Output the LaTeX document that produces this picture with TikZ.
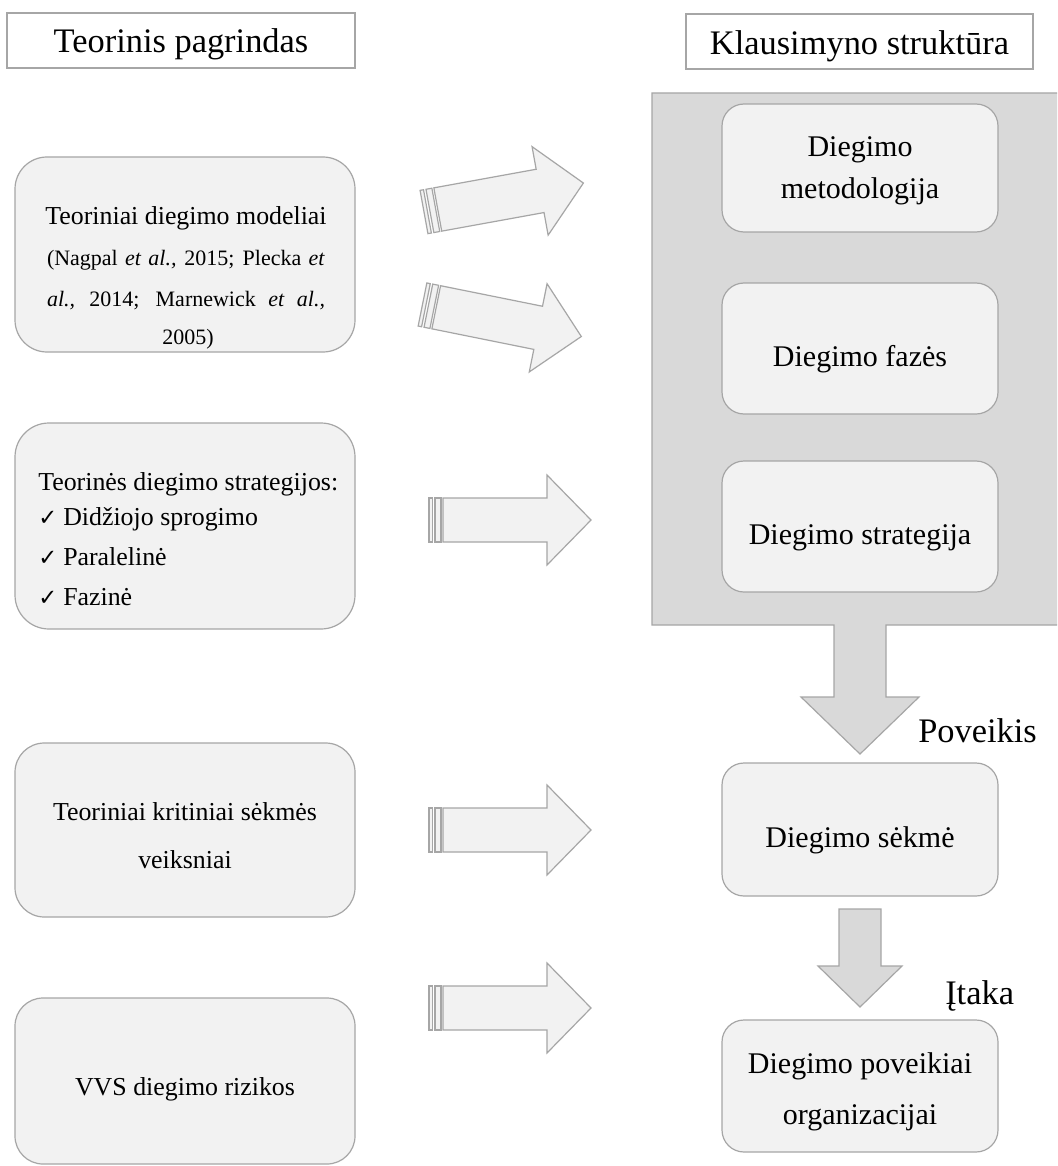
\documentclass[tikz,border=0pt]{standalone}
\usepackage{fontspec}
\setmainfont{Liberation Serif}
\newfontfamily\symbolfont{DejaVu Sans}
\definecolor{edgegray}{HTML}{A6A6A6}
\definecolor{boxfill}{HTML}{F2F2F2}
\definecolor{panelfill}{HTML}{D9D9D9}
\newcommand\fontHead{\fontsize{25.8pt}{30pt}\selectfont}
\newcommand\fontRight{\fontsize{22.5pt}{27pt}\selectfont}
\newcommand\fontLeft{\fontsize{19.4pt}{23pt}\selectfont}
\newcommand\fontCite{\fontsize{16.5pt}{20pt}\selectfont}
\newcommand\tick{{\symbolfont\fontsize{17pt}{20pt}\selectfont ✓}}
\begin{document}
\begin{tikzpicture}[x=0.75pt,y=-0.75pt,
  headbox/.style={draw=edgegray, fill=white, line width=0.9pt, inner sep=0pt},
  softbox/.style={draw=edgegray, fill=boxfill, line width=0.9pt, inner sep=0pt},
  leftbox/.style={softbox, minimum width=255pt},
  rightbox/.style={softbox, minimum width=207pt, minimum height=98.25pt, rounded corners=16.5pt},
  txt/.style={anchor=base, inner sep=0pt},
  ltxt/.style={anchor=base west, inner sep=0pt},
  arrowline/.style={draw=edgegray, fill=boxfill, line width=0.9pt, line join=miter},
  bigarrow/.style={draw=edgegray, fill=panelfill, line width=0.9pt, line join=miter},
  striparrow/.pic={
    \path[arrowline] (0,-22) rectangle (3.5,22);
    \path[arrowline] (6,-22) rectangle (12,22);
    \path[arrowline] (14,-22) -- (118,-22) -- (118,-45) -- (162,0)
      -- (118,45) -- (118,22) -- (14,22) -- cycle;
  }]
\useasboundingbox (0,0) rectangle (1057,1166);
\fill[white] (0,0) rectangle (1057,1166);
\clip (0,0) rectangle (1057,1166);

% column headers
\node[headbox, minimum width=261pt, minimum height=41.25pt] (headL) at (181,40.5) {};
\node[txt, font=\fontHead] (headLtxt) at (181,53) {Teorinis pagrindas};
\node[headbox, minimum width=260.25pt, minimum height=41.25pt] (headR) at (859.5,41.5) {};
\node[txt, font=\fontHead] (headRtxt) at (859.5,55) {Klausimyno struktūra};

% grey panel merged with the downward arrow
\path[bigarrow] (652,93) -- (1062,93) -- (1062,625) -- (886,625) -- (886,697)
  -- (919,697) -- (860,754) -- (801,697) -- (834,697) -- (834,625)
  -- (652,625) -- cycle;

% questionnaire blocks
\node[rightbox, minimum height=96pt] (rMeth) at (860,168) {};
\node[txt, font=\fontRight] at (860,157) {Diegimo};
\node[txt, font=\fontRight] at (860,199) {metodologija};
\node[rightbox] (rPhase) at (860,348.5) {};
\node[txt, font=\fontRight] at (860,366) {Diegimo fazės};
\node[rightbox] (rStrat) at (860,526.5) {};
\node[txt, font=\fontRight] at (860,544) {Diegimo strategija};
\node[rightbox, minimum height=99.75pt] (rSucc) at (860,829.5) {};
\node[txt, font=\fontRight] at (860,847) {Diegimo sėkmė};
\node[rightbox, minimum height=99pt] (rImpact) at (860,1086) {};
\node[txt, font=\fontRight] at (860,1073) {Diegimo poveikiai};
\node[txt, font=\fontRight] at (860,1124) {organizacijai};

% small downward arrow
\path[bigarrow] (839,909) -- (881,909) -- (881,966) -- (902,966) -- (860,1007)
  -- (818,966) -- (839,966) -- cycle;
\node[ltxt, font=\fontHead] (lblEffect) at (918,742) {Poveikis};
\node[ltxt, font=\fontHead] (lblInfl) at (945,1004) {Įtaka};

% theory blocks
\node[leftbox, minimum height=146.25pt, rounded corners=24pt] (lModels) at (185,254.5) {};
\node[txt, font=\fontLeft] at (186,224) {Teoriniai diegimo modeliai};
\node[txt, font=\fontCite] at (186,266) {\makebox[208.5pt][s]{(Nagpal \textit{et al.,} 2015; Plecka \textit{et}}};
\node[txt, font=\fontCite] at (186,306) {\makebox[208.5pt][s]{\textit{al.,} 2014; Marnewick \textit{et al.,}}};
\node[txt, font=\fontCite] at (188,344) {2005)};

\node[leftbox, minimum height=154.5pt, rounded corners=25.5pt] (lStrat) at (185,526) {};
\node[ltxt, font=\fontLeft] at (38,490) {Teorinės diegimo strategijos:};
\node[ltxt] at (38,525) {\tick};
\node[ltxt, font=\fontLeft] at (63,525) {Didžiojo sprogimo};
\node[ltxt] at (38,565) {\tick};
\node[ltxt, font=\fontLeft] at (63,565) {Paralelinė};
\node[ltxt] at (38,605) {\tick};
\node[ltxt, font=\fontLeft] at (63,605) {Fazinė};

\node[leftbox, minimum height=130.5pt, rounded corners=22pt] (lCsf) at (185,830) {};
\node[txt, font=\fontLeft] at (185,820) {Teoriniai kritiniai sėkmės};
\node[txt, font=\fontLeft] at (185,868) {veiksniai};

\node[leftbox, minimum height=124.5pt, rounded corners=21pt] (lRisk) at (185,1081) {};
\node[txt, font=\fontLeft] at (185,1095) {VVS diegimo rizikos};

% block arrows from theory to questionnaire
\pic[rotate=10.3] (arrModelsA) at (424,212) {striparrow};
\pic[rotate=-11.4] (arrModelsB) at (422.5,304.5) {striparrow};
\pic (arrStrat) at (429,520) {striparrow};
\pic (arrCsf) at (429,830) {striparrow};
\pic (arrRisk) at (429,1008) {striparrow};
\end{tikzpicture}
\end{document}
